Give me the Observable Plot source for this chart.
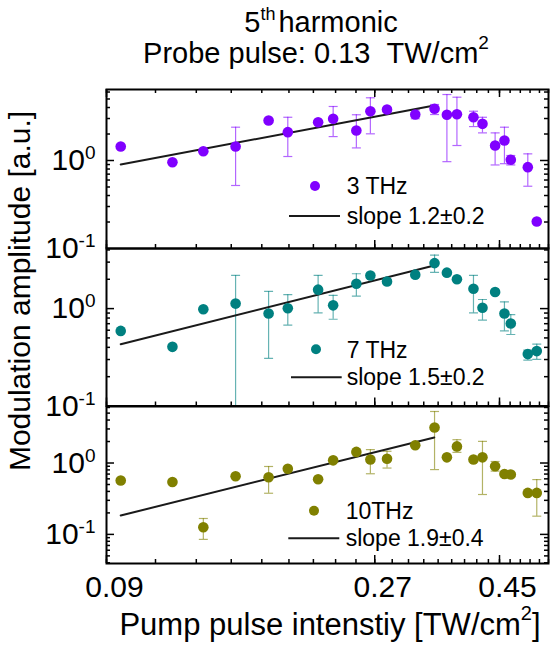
<!DOCTYPE html>
<html><head><meta charset="utf-8">
<script src="https://cdn.jsdelivr.net/npm/d3@7"></script>
<script src="https://cdn.jsdelivr.net/npm/@observablehq/plot@0.6"></script>
<style>
body{margin:0;background:#fff;font-family:"Liberation Sans",Arial,Helvetica,sans-serif;}
#wrap{position:relative;width:554px;height:646px;overflow:hidden;background:#fff;}
#wrap svg{overflow:visible;}
.pan{position:absolute;left:0;}
</style></head><body>
<div id="wrap"></div>
<script>
// ---------------- data ----------------
const pump = [0.0954, 0.1179, 0.1338, 0.1527, 0.1748, 0.1891, 0.2141, 0.2277, 0.2504, 0.2652, 0.2839, 0.3187, 0.3449, 0.3628, 0.378, 0.4045, 0.4197, 0.442, 0.4592, 0.4713, 0.5053, 0.5242];

const amp3THz = [1.44, 0.957, 1.276, 1.44, 2.85, 2.10, 2.72, 2.98, 2.19, 3.63, 3.80, 3.33, 3.87, 3.31, 3.36, 3.10, 2.61, 1.48, 1.69, 1.02, 0.84, 0.203];
const lo3THz  = [null, null, null, 0.52, null, 1.11, null, 1.87, 1.39, 2.01, null, 2.98, 3.33, 0.97, 1.48, 2.43, 2.06, 0.89, 0.92, 0.89, 0.51, null];
const hi3THz  = [null, null, null, 2.39, null, 3.10, null, 4.11, 3.31, 5.16, null, 3.77, 4.33, 5.62, 5.24, 3.63, 3.10, 2.06, 2.39, 1.14, 1.19, null];

const amp7THz = [0.590, 0.405, 0.984, 1.125, 0.889, 1.01, 1.565, 1.08, 1.80, 2.19, 1.90, 2.23, 2.93, 2.34, 2.0, 1.60, 1.02, 1.48, 0.889, 0.702, 0.341, 0.366];
const lo7THz  = [null, null, null, 0.02, 0.308, 0.675, 0.902, 0.777, 1.34, null, null, null, 2.35, null, null, 0.902, 0.76, null, 0.59, 0.542, 0.296, 0.301];
const hi7THz  = [null, null, null, 2.19, 1.50, 1.39, 2.19, 1.37, 2.28, null, null, null, 3.54, null, null, 2.19, 1.24, null, 1.17, 0.868, 0.374, 0.431];

const amp10THz = [0.568, 0.543, 0.126, 0.652, 0.631, 0.830, 0.592, 1.09, 1.43, 1.12, 1.15, 1.77, 3.15, 1.20, 1.71, 1.12, 1.20, 0.90, 0.702, 0.689, 0.381, 0.381];
const lo10THz  = [null, null, 0.0851, null, 0.377, null, null, null, null, 0.707, 0.85, null, 0.809, null, 1.41, null, 0.362, 0.77, null, 0.66, null, 0.180];
const hi10THz  = [null, null, 0.167, null, 0.894, null, null, null, null, 1.54, 1.46, null, 5.27, null, 2.12, null, 2.01, 1.05, null, 0.72, null, 0.586];

const fitX = [0.0954, 0.3445];
const fit3THz = [0.90, 4.22];
const fit7THz = [0.431, 2.77];
const fit10THz = [0.184, 2.28];

const xTickLabels = [0.09, 0.27, 0.45];
const xMinorTicks = [0.09, 0.11, 0.13, 0.15, 0.17, 0.19, 0.21, 0.23, 0.25, 0.27, 0.29, 0.31, 0.33, 0.35, 0.37, 0.39, 0.41, 0.43, 0.45, 0.47, 0.49, 0.51, 0.53, 0.55];
const yTickLabels = [0.1, 1];
const yMinorA = [0.2, 0.3, 0.4, 0.5, 0.6, 0.7, 0.8, 0.9, 2, 3, 4, 5, 6];
const yMinorB = [0.2, 0.3, 0.4, 0.5, 0.6, 0.7, 0.8, 0.9, 2, 3, 4];
const yMinorC = [0.04, 0.05, 0.06, 0.07, 0.08, 0.09, 0.2, 0.3, 0.4, 0.5, 0.6, 0.7, 0.8, 0.9, 2, 3, 4, 5, 6];

const seriesNames = ["3 THz", "7 THz", "10THz"];
const slopeTexts = ["slope 1.2\u00b10.2", "slope 1.5\u00b10.2", "slope 1.9\u00b10.4"];
const colors = ["#8000ff", "#008080", "#808000"];

// ---------------- drawing ----------------
const FONT = '"Liberation Sans", Arial, Helvetica, sans-serif';
const W = 554, ML = 106, MR = 6;
const FW = W - ML - MR;
const wrap = document.getElementById("wrap");
const cap = {draw(ctx) { ctx.moveTo(-4.5, 0); ctx.lineTo(4.5, 0); }};

function panel(cfg) {
  const {amp, lo, hi, fit, color, yDomain, top, bottom, yMinor, yMajor, topTicks, xLabels} = cfg;
  const mt = 12, mb = xLabels ? 90 : 12;
  const H = bottom - top;
  const rows = pump.map((x, i) => ({x, y: amp[i], lo: lo[i], hi: hi[i]}));
  const err = rows.filter(d => d.lo != null);
  const fitRows = fitX.map((x, i) => ({x, y: fit[i]}));
  const tk = {stroke: "#000", strokeWidth: 1.5};
  const marks = [
    Plot.ruleX(err, {x: "x", y1: "lo", y2: "hi", stroke: color, strokeOpacity: 0.6, strokeWidth: 1.2, clip: true}),
    Plot.dot(err, {x: "x", y: "lo", symbol: cap, r: 3, fill: "none", stroke: color, strokeOpacity: 0.6, strokeWidth: 1.2, clip: true}),
    Plot.dot(err, {x: "x", y: "hi", symbol: cap, r: 3, fill: "none", stroke: color, strokeOpacity: 0.6, strokeWidth: 1.2, clip: true}),
    Plot.line(fitRows, {x: "x", y: "y", stroke: "#1a1a1a", strokeWidth: 2}),
    Plot.dot(rows, {x: "x", y: "y", r: 5.3, fill: color}),
    // bottom x ticks (inward)
    Plot.ruleX(xMinorTicks, {x: d => d, insetTop: H - 4, ...tk}),
    Plot.ruleX(xTickLabels, {x: d => d, insetTop: H - 8, ...tk}),
    // y ticks left & right (inward)
    Plot.ruleY(yMinor, {y: d => d, insetRight: FW - 4, ...tk}),
    Plot.ruleY(yMajor, {y: d => d, insetRight: FW - 8, ...tk}),
    Plot.ruleY(yMinor, {y: d => d, insetLeft: FW - 4, ...tk}),
    Plot.ruleY(yMajor, {y: d => d, insetLeft: FW - 8, ...tk}),
    Plot.frame({stroke: "#000", strokeWidth: 2}),
    Plot.axisY(yTickLabels, {anchor: "left", tickSize: 0, tickPadding: 11, fontSize: 30, fill: "#000",
      tickFormat: d => d === 1 ? "10^0" : "10^-1", label: null})
  ];
  if (topTicks) {
    marks.push(Plot.ruleX(xMinorTicks, {x: d => d, insetBottom: H - 4, ...tk}));
    marks.push(Plot.ruleX(xTickLabels, {x: d => d, insetBottom: H - 8, ...tk}));
  }
  if (xLabels) {
    marks.push(Plot.axisX(xTickLabels, {anchor: "bottom", tickSize: 0, tickPadding: 12, fontSize: 30, dx: 8, fill: "#000",
      tickFormat: d => d.toFixed(2), label: null}));
  }
  const svg = Plot.plot({
    width: W, height: H + mt + mb,
    marginLeft: ML, marginRight: MR, marginTop: mt, marginBottom: mb,
    style: {background: "transparent", overflow: "visible", fontFamily: FONT, color: "#000"},
    x: {type: "log", domain: [0.09, 0.55], axis: null},
    y: {type: "log", domain: yDomain, axis: null},
    marks
  });
  svg.querySelectorAll('g[aria-label="y-axis tick label"] text').forEach(t => {
    const s = t.textContent;
    if (s.includes("^")) {
      const [b, e] = s.split("^");
      t.textContent = b;
      const ts = document.createElementNS("http://www.w3.org/2000/svg", "tspan");
      ts.setAttribute("dy", "-11");
      ts.setAttribute("font-size", "19");
      ts.textContent = e;
      t.appendChild(ts);
    }
  });
  const div = document.createElement("div");
  div.className = "pan";
  div.style.top = (top - mt) + "px";
  div.appendChild(svg);
  wrap.appendChild(div);
}

panel({amp: amp3THz, lo: lo3THz, hi: hi3THz, fit: fit3THz, color: colors[0], yDomain: [0.1, 6.41],
  top: 89, bottom: 248, yMinor: yMinorA, yMajor: [1], topTicks: true, xLabels: false});
panel({amp: amp7THz, lo: lo7THz, hi: hi7THz, fit: fit7THz, color: colors[1], yDomain: [0.1, 4.14],
  top: 248, bottom: 405.5, yMinor: yMinorB, yMajor: [1], topTicks: false, xLabels: false});
panel({amp: amp10THz, lo: lo10THz, hi: hi10THz, fit: fit10THz, color: colors[2], yDomain: [0.0391, 6.19],
  top: 405.5, bottom: 562.5, yMinor: yMinorC, yMajor: [0.1, 1], topTicks: false, xLabels: true});

// ---------------- titles, axis labels, legends ----------------
const NS = "http://www.w3.org/2000/svg";
const ov = document.createElementNS(NS, "svg");
ov.setAttribute("width", W); ov.setAttribute("height", 646);
ov.setAttribute("style", "position:absolute;left:0;top:0;overflow:visible;font-family:" + FONT.replace(/"/g, "'"));
ov.innerHTML = `
<text x="321" y="31.7" text-anchor="middle" font-size="29" fill="#000">5<tspan font-size="18" dy="-12">th</tspan><tspan dy="12" dx="3">harmonic</tspan></text>
<text x="316" y="63.3" text-anchor="middle" font-size="29" fill="#000">Probe pulse: 0.13\u00a0\u00a0TW/cm<tspan font-size="19" dy="-14">2</tspan></text>
<text x="330" y="635" text-anchor="middle" font-size="31" fill="#000">Pump pulse intenstiy [TW/cm<tspan font-size="20" dy="-15">2</tspan><tspan dy="15">]</tspan></text>
<text transform="translate(30,291) rotate(-90)" text-anchor="middle" font-size="30" fill="#000">Modulation amplitude [a.u.]</text>
`;
const leg = [
  {dot: [315, 186], t1: [346.7, 194], line: [289, 340, 216], t2: [346.7, 224]},
  {dot: [316, 349.3], t1: [346.7, 357.5], line: [291, 341.7, 377.3], t2: [346.7, 384.5]},
  {dot: [314, 510.7], t1: [345.7, 518.5], line: [288.3, 339.3, 538.3], t2: [345.7, 546]}
];
leg.forEach((L, i) => {
  ov.innerHTML += `<circle cx="${L.dot[0]}" cy="${L.dot[1]}" r="5" fill="${colors[i]}"/>
  <text x="${L.t1[0]}" y="${L.t1[1]}" font-size="23" fill="#000">${seriesNames[i]}</text>
  <line x1="${L.line[0]}" x2="${L.line[1]}" y1="${L.line[2]}" y2="${L.line[2]}" stroke="#1a1a1a" stroke-width="2"/>
  <text x="${L.t2[0]}" y="${L.t2[1]}" font-size="23" fill="#000">${slopeTexts[i]}</text>`;
});
wrap.appendChild(ov);
</script>
</body></html>
